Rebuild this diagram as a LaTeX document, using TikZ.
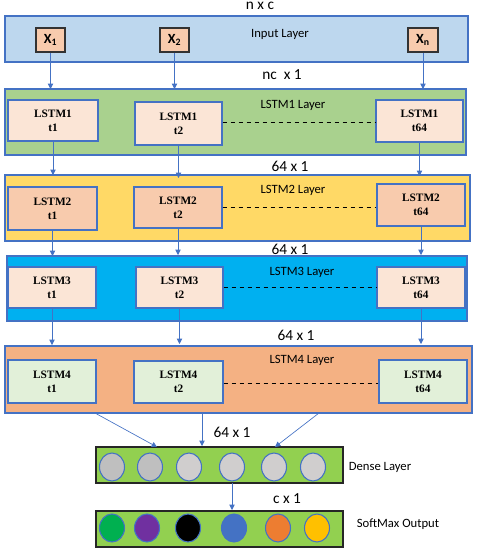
\documentclass[tikz,border=0pt]{standalone}
\usepackage{fontspec}
\setmainfont{Liberation Serif}
\newfontfamily\serfont{Liberation Serif}
\newfontfamily\calfont{Carlito}
\usetikzlibrary{arrows.meta,shapes.geometric}
\definecolor{bord}{HTML}{4472C4}
\definecolor{inL}{HTML}{BDD7EE}
\definecolor{l1}{HTML}{A9D18E}
\definecolor{l2}{HTML}{FFD966}
\definecolor{l3}{HTML}{00B0F0}
\definecolor{l4}{HTML}{F4B183}
\definecolor{bxA}{HTML}{FBE5D6}
\definecolor{bxB}{HTML}{F8CBAD}
\definecolor{bxC}{HTML}{E2F0D9}
\definecolor{dense}{HTML}{92D050}
\definecolor{g1}{HTML}{BFBFBF}
\definecolor{g2}{HTML}{D0CECE}
\definecolor{c1}{HTML}{00B050}
\definecolor{c2}{HTML}{7030A0}
\definecolor{c4}{HTML}{4472C4}
\definecolor{c5}{HTML}{ED7D31}
\definecolor{c6}{HTML}{FFC000}
\newlength{\pxu}
\setlength{\pxu}{0.75pt}
\tikzset{
  layer/.style={draw=bord, line width=0.9pt},
  cell/.style={draw=bord, line width=0.8pt, align=center, font=\serfont\bfseries\fontsize{8.5}{10.5}\selectfont},
  xin/.style={draw=black!80, line width=0.8pt, fill=bxB, font=\calfont\bfseries\fontsize{10.5}{12}\selectfont},
  lbl/.style={font=\calfont\fontsize{9.5}{11}\selectfont},
  dim/.style={font=\calfont\fontsize{11.5}{13}\selectfont},
  arr/.style={draw=bord, line width=0.5pt, -{Triangle[length=4pt,width=4pt]}},
  dashline/.style={dashed, line width=0.7pt},
  neuron/.style={ellipse, draw=bord, line width=0.8pt, minimum width=25\pxu, minimum height=28\pxu, inner sep=0pt},
}
\begin{document}
\begin{tikzpicture}[x=0.75pt,y=-0.75pt]
\useasboundingbox (0,0) rectangle (476,550);
% input layer
\node[dim] (tnc) at (260,6) {n x c};
\draw[layer, fill=inL] (5,16) rectangle (468,62);
\node[lbl] (inl) at (280,34) {Input Layer};
\node[xin, minimum width=29\pxu, minimum height=24\pxu] (x1) at (50.5,40) {X\textsubscript{1}};
\node[xin, minimum width=29\pxu, minimum height=24\pxu] (x2) at (174.5,40) {X\textsubscript{2}};
\node[xin, minimum width=30\pxu, minimum height=24\pxu] (xn) at (423,40) {X\textsubscript{n}};
\node[dim] (d0) at (282,75) {nc~ x 1};
% LSTM1
\draw[layer, fill=l1] (5,89) rectangle (466,155);
\node[lbl] (l1l) at (293,105) {LSTM1 Layer};
\node[cell, fill=bxA, minimum width=90\pxu, minimum height=41\pxu] (a1) at (53,120.5) {LSTM1\\t1};
\node[cell, fill=bxA, minimum width=87\pxu, minimum height=43\pxu] (a2) at (178.5,123.5) {LSTM1\\t2};
\node[cell, fill=bxA, minimum width=87\pxu, minimum height=42\pxu] (a3) at (419.5,121) {LSTM1\\t64};
\draw[dashline] (a2.east |- 0,122) -- (a3.west |- 0,122);
\node[dim] (d1) at (290,166) {64 x 1};
% LSTM2
\draw[layer, fill=l2] (5,175) rectangle (470,241);
\node[lbl] (l2l) at (293,190) {LSTM2 Layer};
\node[cell, fill=bxB, minimum width=89\pxu, minimum height=43\pxu] (b1) at (52.5,208.5) {LSTM2\\t1};
\node[cell, fill=bxB, minimum width=88\pxu, minimum height=41\pxu] (b2) at (178,207.5) {LSTM2\\t2};
\node[cell, fill=bxB, minimum width=88\pxu, minimum height=42\pxu] (b3) at (421,205) {LSTM2\\t64};
\draw[dashline] (b2.east |- 0,207) -- (b3.west |- 0,207);
\node[dim] (d2) at (290,249) {64 x 1};
% LSTM3
\draw[layer, fill=l3] (7,256) rectangle (467,321);
\node[lbl] (l3l) at (302,272) {LSTM3 Layer};
\node[cell, fill=bxA, minimum width=88\pxu, minimum height=41\pxu] (c1n) at (52,287.5) {LSTM3\\t1};
\node[cell, fill=bxA, minimum width=87\pxu, minimum height=41\pxu] (c2n) at (179.5,287.5) {LSTM3\\t2};
\node[cell, fill=bxA, minimum width=88\pxu, minimum height=41\pxu] (c3n) at (421,287.5) {LSTM3\\t64};
\draw[dashline] (c2n.east |- 0,287) -- (c3n.west |- 0,287);
\node[dim] (d3) at (296,335) {64 x 1};
% LSTM4
\draw[layer, fill=l4] (5,346) rectangle (472,413);
\node[lbl] (l4l) at (302,360) {LSTM4 Layer};
\node[cell, fill=bxC, minimum width=88\pxu, minimum height=43\pxu] (e1) at (52,381.5) {LSTM4\\t1};
\node[cell, fill=bxC, minimum width=89\pxu, minimum height=42\pxu] (e2) at (178.5,382) {LSTM4\\t2};
\node[cell, fill=bxC, minimum width=88\pxu, minimum height=43\pxu] (e3) at (423,381.5) {LSTM4\\t64};
\draw[dashline] (e2.east |- 0,383) -- (e3.west |- 0,383);
% coordinates
\coordinate (p1) at (95,413);
\coordinate (p2) at (202,413);
\coordinate (p3) at (319,413);
\coordinate (q1) at (157,447);
\coordinate (q2) at (202,446);
\coordinate (q3) at (275,447);
\node[dim] (d4) at (232,432) {64 x 1};
% dense
\draw[draw=black!85, line width=0.9pt, fill=dense] (96,447) rectangle (343,483);
\node[neuron, fill=g1] (n1) at (112,467) {};
\node[neuron, fill=g1] (n2) at (150,467) {};
\node[neuron, fill=g2] (n3) at (189,467) {};
\node[neuron, fill=g2] (n4) at (232,467) {};
\node[neuron, fill=g2] (n5) at (274,467) {};
\node[neuron, fill=g2] (n6) at (313,467) {};
\node[lbl] (dl) at (380,467) {Dense Layer};
\node[dim] (d5) at (287,499) {c x 1};
\coordinate (r1) at (232,483);
\coordinate (r2) at (232,510);
% softmax
\draw[draw=black!85, line width=0.9pt, fill=dense] (96,511) rectangle (343,547);
\node[neuron, fill=c1] (s1) at (112,528) {};
\node[neuron, fill=c2] (s2) at (147,528) {};
\node[neuron, fill=black] (s3) at (188,528) {};
\node[neuron, fill=c4] (s4) at (234,528) {};
\node[neuron, fill=c5] (s5) at (278,528) {};
\node[neuron, fill=c6] (s6) at (317,528) {};
\node[lbl] (sl) at (398,524) {SoftMax Output};
% arrows
\draw[arr] (x1.south) -- (x1.south |- 0,89);
\draw[arr] (x2.south) -- (x2.south |- 0,89);
\draw[arr] (xn.south) -- (xn.south |- 0,89);
\draw[arr] (a1.south) -- (a1.south |- 0,175);
\draw[arr] (a2.south) -- (a2.south |- 0,178);
\draw[arr] (a3.south) -- (a3.south |- 0,176);
\draw[arr] (b1.south) -- (b1.south |- 0,256);
\draw[arr] (b2.south) -- (b2.south |- 0,255);
\draw[arr] (b3.south) -- (b3.south |- 0,255);
\draw[arr] (c1n.south) -- (c1n.south |- 0,345);
\draw[arr] (c2n.south) -- (c2n.south |- 0,344);
\draw[arr] (c3n.south) -- (c3n.south |- 0,344);
\draw[arr] (p1) -- (q1);
\draw[arr] (p2) -- (q2);
\draw[arr] (p3) -- (q3);
\draw[arr] (r1) -- (r2);
\end{tikzpicture}
\end{document}
